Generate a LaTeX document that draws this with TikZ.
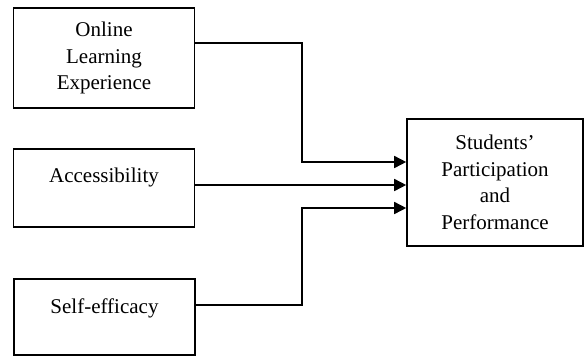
\documentclass[tikz,border=0pt]{standalone}
\usepackage{fontspec}
\setmainfont{Liberation Serif}
\usetikzlibrary{arrows.meta}

\begin{document}
\begin{tikzpicture}[x=1pt,y=-1pt,
    factor/.style={draw, line width=1.6pt, minimum width=181pt, inner xsep=0pt, inner ysep=0pt,
        align=center, font=\fontsize{21}{26.5}\selectfont},
    link/.style={line width=1.6pt, -{Triangle[length=12pt,width=12pt]}}]
\useasboundingbox (0,0) rectangle (584,356);
% boxes on the left
\node[factor, minimum height=100pt] (ole) at (104,58) {Online\\Learning\\Experience};
\node[factor, text height=33pt, text depth=45pt] (acc) at (104,188) {Accessibility};
\node[factor, text height=34pt, text depth=41.5pt] (sef) at (104.5,317) {Self-efficacy};
% outcome
\node[factor, minimum width=176pt, minimum height=127pt] (spp) at (495,182.5)
    {Students'\\Participation\\and\\Performance};
% arrows
\coordinate (mid) at ([yshift=3pt]acc.east);
\draw[link] ([yshift=15pt]ole.east) -| (302,162) -- ([yshift=20.5pt]spp.west);
\draw[link] (mid) -- (mid -| spp.west);
\draw[link] ([yshift=12pt]sef.east) -| (302,208) -- ([yshift=-25.5pt]spp.west);
\end{tikzpicture}
\end{document}
